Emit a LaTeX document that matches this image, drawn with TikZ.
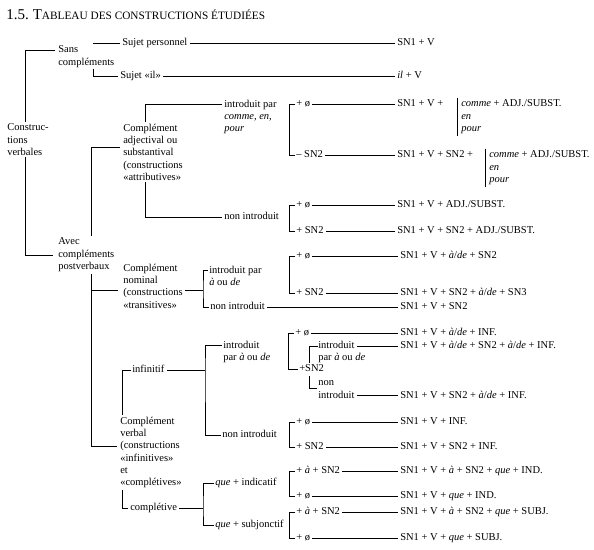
\documentclass[tikz,border=0pt]{standalone}
\usepackage{fontspec}
\setmainfont{Liberation Serif}
\usetikzlibrary{backgrounds}

\tikzset{
  every node/.style={font=\fontsize{10.5}{12.3}\selectfont},
  lbl/.style={inner sep=0pt, anchor=west, text height=7pt, text depth=2pt},
  blk/.style={inner xsep=0pt, inner ysep=2pt, anchor=north west, align=left, fill=white},
  mask/.style={fill=white, inner ysep=2pt},
  link/.style={shorten <=2pt, shorten >=2pt},
}

\begin{document}
\begin{tikzpicture}[x=1pt, y=-1pt, line width=0.6pt]
\useasboundingbox (0,0) rectangle (594,549);

%Titre
\node[anchor=west, inner sep=0pt] (titre) at (6,15)
  {\fontsize{15}{18}\selectfont 1.5.\hspace{4pt}T{\fontsize{11.3}{14}\selectfont ABLEAU DES CONSTRUCTIONS ÉTUDIÉES}};

%Racine
\node[blk] (cv) at (7,121.5) {Construc-\\tions\\verbales};
\node[blk] (sans) at (58,43.5) {Sans\\compléments};
\node[blk] (avec) at (58,235.5) {Avec\\compléments\\postverbaux};

%Sans complements
\node[lbl] (sp) at (122,43) {Sujet personnel};
\node[lbl] (si) at (120,76) {Sujet «il»};
\node[lbl] (rsp) at (397,43) {SN1 + V};
\node[lbl] (rsi) at (397,76) {\textit{il} + V};

%Complement adjectival
\node[blk] (ca) at (123,121.5) {Complément\\adjectival ou\\substantival\\(constructions\\«attributives»};
\node[blk] (ip1) at (224,97.5) {introduit par\\\textit{comme, en,}\\\textit{pour}};
\node[lbl] (ni1) at (224,217) {non introduit};
\node[lbl] (a1) at (296,104) {+ ø};
\node[lbl] (a2) at (296,155) {– SN2};
\node[lbl] (ra1) at (397,104) {SN1 + V +};
\node[lbl] (ra2) at (397,155) {SN1 + V + SN2 +};
\node[blk] (ca1) at (461,97.5) {\textit{comme} + ADJ./SUBST.\\\textit{en}\\\textit{pour}};
\node[blk] (ca2) at (489,148.5) {\textit{comme} + ADJ./SUBST.\\\textit{en}\\\textit{pour}};
\node[lbl] (a3) at (296,205) {+ ø};
\node[lbl] (a4) at (296,231) {+ SN2};
\node[lbl] (ra3) at (397,205) {SN1 + V + ADJ./SUBST.};
\node[lbl] (ra4) at (397,231) {SN1 + V + SN2 + ADJ./SUBST.};

%Complement nominal
\node[blk] (cn) at (123,261.5) {Complément\\nominal\\(constructions\\«transitives»};
\node[blk] (ip2) at (209,263.5) {introduit par\\\textit{à} ou \textit{de}};
\node[lbl] (ni2) at (210,307) {non introduit};
\coordinate (kn) at (203,290);
\node[lbl] (b1) at (296,256) {+ ø};
\node[lbl] (b2) at (296,293) {+ SN2};
\node[lbl] (rb1) at (400,256) {SN1 + V + \textit{à}/\textit{de} + SN2};
\node[lbl] (rb2) at (400,293) {SN1 + V + SN2 + \textit{à}/\textit{de} + SN3};
\node[lbl] (rb3) at (400,307) {SN1 + V + SN2};

%Complement verbal
\node[blk] (cvb) at (120,414.5) {Complément\\verbal\\(constructions\\«infinitives»\\et\\«complétives»};
\node[lbl] (inf) at (132,370) {infinitif};
\coordinate (ki) at (205,370);
\node[blk] (ip3) at (223,338.5) {introduit\\par \textit{à} ou \textit{de}};
\node[lbl] (ni3) at (222,435) {non introduit};
\node[lbl] (d1) at (295,333) {+ ø};
\node[lbl, mask] (d2) at (299,369) {+SN2};
\node[lbl] (ip4) at (318,346) {introduit};
\node[lbl] (ip4b) at (318,358) {par \textit{à} ou \textit{de}};
\node[lbl] (nn) at (318,383) {non};
\node[lbl] (nnb) at (318,395.5) {introduit};
\node[lbl] (rd1) at (400,333) {SN1 + V + \textit{à}/\textit{de} + INF.};
\node[lbl] (rd2) at (400,346) {SN1 + V + \textit{à}/\textit{de} + SN2 + \textit{à}/\textit{de} + INF.};
\node[lbl] (rd3) at (400,395.5) {SN1 + V + SN2 + \textit{à}/\textit{de} + INF.};
\node[lbl] (e1) at (296,422) {+ ø};
\node[lbl] (e2) at (296,447) {+ SN2};
\node[lbl] (re1) at (400,422) {SN1 + V + INF.};
\node[lbl] (re2) at (400,447) {SN1 + V + SN2 + INF.};

%Completive
\node[lbl] (cpl) at (130,508) {complétive};
\coordinate (kc) at (203,508);
\node[lbl] (qi) at (215,483) {\textit{que} + indicatif};
\node[lbl] (qs) at (215,525) {\textit{que} + subjonctif};
\node[lbl] (f1) at (296,471) {+ \textit{à} + SN2};
\node[lbl] (f2) at (296,496) {+ ø};
\node[lbl] (g1) at (296,512) {+ \textit{à} + SN2};
\node[lbl] (g2) at (296,538) {+ ø};
\node[lbl] (rf1) at (400,471) {SN1 + V + \textit{à} + SN2 + \textit{que} + IND.};
\node[lbl] (rf2) at (400,496) {SN1 + V + \textit{que} + IND.};
\node[lbl] (rg1) at (400,512) {SN1 + V + \textit{à} + SN2 + \textit{que} + SUBJ.};
\node[lbl] (rg2) at (400,538) {SN1 + V + \textit{que} + SUBJ.};

%Traits
\begin{scope}[on background layer]
  \draw ([xshift=-3pt,yshift=-6.5pt]sans.north west) -- ++(-30,0) |- ([xshift=-5pt,yshift=-20pt]avec.north west);
  \draw ([xshift=-2pt]sp.west) -- ++(-27,0) |- ([xshift=-2pt]si.west);
  \draw ([xshift=-3pt,yshift=-25.5pt]ca.north west) -- ++(-29,0) |- ([xshift=-3pt,yshift=-31.5pt]cvb.north west);
  \draw ([xshift=-5pt,yshift=-28.5pt]cn.north west) -- ++(-27,0);
  \draw ([xshift=-2pt,yshift=-6.5pt]ip1.north west) -- ++(-77,0) |- ([xshift=-2pt]ni1.west);
  \draw[shorten <=2pt] ([yshift=-28.5pt]cn.north east) -- (kn);
  \draw ([xshift=-1pt,yshift=-6.5pt]ip2.north west) -| (kn) |- ([xshift=-1pt]ni2.west);
  \draw ([xshift=-1pt]inf.west) -- ++(-9,0) |- ([xshift=-2pt]cpl.west);
  \draw[shorten <=2pt] (inf.east) -- (ki);
  \draw ([xshift=-1pt,yshift=-6.5pt]ip3.north west) -| (ki) |- ([xshift=-1pt]ni3.west);
  \draw (ip4.west) -- ++(-9,0) |- ([xshift=-1pt]nn.south west);
  \draw[shorten <=2pt] (cpl.east) -- (kc);
  \draw ([xshift=-1pt]qi.west) -| (kc) |- ([xshift=-1pt]qs.west);
  \foreach \src/\dst in {a1/a2, a3/a4, b1/b2, d1/d2, e1/e2, f1/f2, g1/g2}
    \draw ([xshift=-1pt]\src.west) -- ++(-6,0) |- ([xshift=-1pt]\dst.west);
  \foreach \src/\dst in {sp/rsp, si/rsi, a1/ra1, a2/ra2, a3/ra3, a4/ra4, b1/rb1, b2/rb2, ni2/rb3,
                         d1/rd1, ip4/rd2, nnb/rd3, e1/re1, e2/re2, f1/rf1, f2/rf2, g1/rg1, g2/rg2}
    \draw[link] (\src.east) -- (\dst.west);
  \draw ([xshift=-4pt]ca1.north west) -- ([xshift=-4pt]ca1.south west);
  \draw ([xshift=-4pt]ca2.north west) -- ([xshift=-4pt]ca2.south west);
\end{scope}
\end{tikzpicture}
\end{document}
